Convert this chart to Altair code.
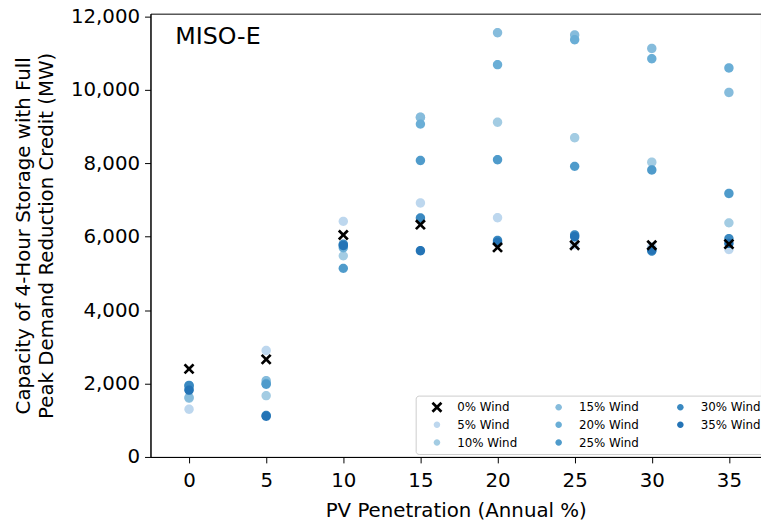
import pandas as pd
import altair as alt

# PV penetration levels (annual %)
pv = [0, 5, 10, 15, 20, 25, 30, 35]

# capacity (MW) per wind level
wind0 = [2400, 2660, 6050, 6330, 5710, 5770, 5770, 5800]
wind5 = [1300, 2900, 6420, 6920, 6520, 5780, 5720, 5650]
wind10 = [1600, 1670, 5480, 9250, 9120, 8700, 8030, 6380]
wind15 = [1620, 2080, 5780, 9260, 11560, 11500, 11130, 9930]
wind20 = [1850, 2000, 5700, 9070, 10690, 11370, 10850, 10600]
wind25 = [1950, 1980, 5140, 8080, 8100, 7920, 7820, 7180]
wind30 = [1940, 1130, 5800, 6510, 5900, 6050, 5610, 5950]
wind35 = [1820, 1110, 5760, 5620, 5850, 6000, 5640, 5820]

series = {
    "5% Wind": wind5, "10% Wind": wind10, "15% Wind": wind15, "20% Wind": wind20,
    "25% Wind": wind25, "30% Wind": wind30, "35% Wind": wind35, "0% Wind": wind0,
}

rows = []
for name, vals in series.items():
    for x, v in zip(pv, vals):
        rows.append({"pv": x, "mw": v, "wind": name,
                     "sz": 121 if name == "0% Wind" else 250})
df = pd.DataFrame(rows)

order = ["0% Wind", "5% Wind", "10% Wind", "15% Wind", "20% Wind", "25% Wind", "30% Wind", "35% Wind"]
colors = ["#000000", "#bdd7ee", "#a3cce3", "#86bcdc", "#6aaed6", "#4f9bcb", "#3a89c1", "#2474b6"]
xshape = "M0,-0.35L0.65,-1L1,-0.65L0.35,0L1,0.65L0.65,1L0,0.35L-0.65,1L-1,0.65L-0.35,0L-1,-0.65L-0.65,-1Z"
dot = "M0.6,0A0.6,0.6 0 1,1 -0.6,0A0.6,0.6 0 1,1 0.6,0Z"
shapes = [xshape] + [dot] * 7

points = alt.Chart(df).mark_point(filled=True, opacity=1, strokeWidth=0).encode(
    x=alt.X("pv:Q", title="PV Penetration (Annual %)",
            scale=alt.Scale(domain=[-2.5, 37.08], nice=False, zero=False),
            axis=alt.Axis(values=pv, tickSize=6, labelPadding=8, titlePadding=10)),
    y=alt.Y("mw:Q", title=["Capacity of 4-Hour Storage with Full", "Peak Demand Reduction Credit (MW)"],
            scale=alt.Scale(domain=[0, 12080], nice=False),
            axis=alt.Axis(values=[0, 2000, 4000, 6000, 8000, 10000, 12000], format=",.0f",
                          tickSize=6, labelPadding=5, titlePadding=14, titleLineHeight=23)),
    color=alt.Color("wind:N", scale=alt.Scale(domain=order, range=colors),
                    legend=alt.Legend(title=None, orient="none", legendX=268, legendY=386, columns=3)),
    shape=alt.Shape("wind:N", scale=alt.Scale(domain=order, range=shapes)),
    size=alt.Size("sz:Q", scale=None, legend=None),
)

label = alt.Chart(pd.DataFrame({"t": ["MISO-E"]})).mark_text(
    align="left", baseline="alphabetic", fontSize=24, color="black"
).encode(text="t:N", x=alt.value(25), y=alt.value(31))

chart = alt.layer(points, label).properties(
    width=617, height=448,
    autosize=alt.AutoSizeParams(type="none"),
    padding={"left": 144, "top": 3, "right": 0, "bottom": 62},
).configure(font="DejaVu Sans").configure_view(
    stroke="black", strokeWidth=1
).configure_axis(
    grid=False, labelFontSize=20, titleFontSize=20, titleFontWeight="normal",
    labelColor="black", titleColor="black", domainColor="black", tickColor="black",
).configure_legend(
    labelFontSize=12, labelColor="black", symbolSize=121, labelOffset=14,
    columnPadding=25, rowPadding=5, padding=5, symbolOffset=10,
    strokeColor="#cccccc", fillColor="white", cornerRadius=3,
)

chart.save("out.html", embed_options={"renderer": "svg", "actions": False})
